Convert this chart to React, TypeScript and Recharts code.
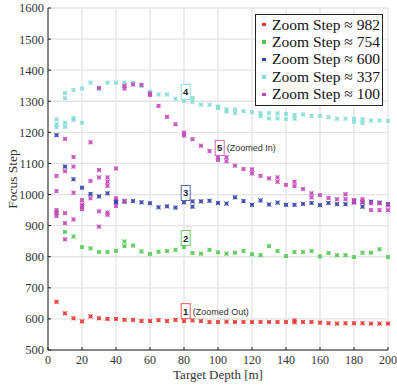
import React from 'react';
import {
  ScatterChart,
  Scatter,
  XAxis,
  YAxis,
  CartesianGrid,
  Legend,
  ReferenceDot
} from 'recharts';

// target depths [m], one column of samples per depth
const DEPTHS = [
  5, 10, 15, 20, 25, 30, 35, 40, 45, 50, 55, 60, 65, 70, 75, 80, 85, 90, 95, 100,
  105, 110, 115, 120, 125, 130, 135, 140, 145, 150, 155, 160, 165, 170, 175, 180, 185, 190, 195, 200
];

const ZOOM_982 = [
  [655], [618], [602], [592], [608], [602], [600], [600], [597], [597], [593], [593], [596], [593], [597], [593], [595], [593], [590], [590],
  [591], [590], [590], [590], [590], [590], [590], [590], [595, 589], [590], [590], [588], [586], [585], [586], [586], [586], [585], [585], [585]
];

const ZOOM_754 = [
  [944], [880], [865], [831], [827], [815], [815], [819], [849, 834], [836], [817], [809], [816], [818], [822], [831], [812], [810], [822], [814],
  [810], [813], [819], [808], [805], [834], [818], [802], [815], [815], [818], [801], [812], [805], [805], [799], [813], [813], [824], [799]
];

const ZOOM_600 = [
  [1191], [1090], [1049], [1022], [1002], [994], [1004], [980, 975], [977], [979], [975], [972], [959], [962], [958], [975], [978, 961], [978], [980], [973],
  [971], [991], [979], [967], [981], [968], [974], [967], [967], [970], [973], [966], [973], [969], [969], [976, 980], [961, 975], [977], [974], [969]
];

const ZOOM_337 = [
  [1242, 1226, 1217], [1326, 1310, 1231, 1218], [1336, 1246, 1240], [1341, 1231], [1360], [1339], [1360], [1360], [1360], [1360], [1349], [1331, 1324], [1322], [1322], [1308], [1301], [1311, 1298], [1289], [1289], [1283, 1278],
  [1274, 1267], [1274, 1262], [1268], [1265], [1262, 1252], [1262, 1245], [1261, 1245], [1259, 1243], [1256, 1244], [1258], [1253], [1253], [1249], [1244], [1244], [1244, 1234], [1242, 1230], [1238], [1238], [1237]
];

const ZOOM_100 = [
  [1060, 1011, 950, 940, 931], [1179, 1075, 940, 908, 856], [1121, 1090, 1006, 920], [982, 968, 961, 953], [1168, 1044, 988], [1343, 1079, 1055, 946, 897], [1055, 1041, 1028, 942, 935], [1084, 988, 963], [1350, 1341, 980], [1354], [1353], [1325, 1320], [1285], [1250], [1226], [1199, 1190], [1178], [1157], [1140], [1120, 1111],
  [1120, 1107], [1093], [1082], [1081, 1068], [1060], [1052], [1055, 1041], [1031], [1041, 1027], [1018], [1004, 991], [998], [989], [985], [1001, 985], [982, 974], [985, 977], [972, 950], [972, 950], [965, 950]
];

const X_TICKS = [0, 20, 40, 60, 80, 100, 120, 140, 160, 180, 200];
const Y_TICKS = [500, 600, 700, 800, 900, 1000, 1100, 1200, 1300, 1400, 1500, 1600];

const SERIES = [
  { name: 'Zoom Step \u2248 982', color: '#e8322c', values: ZOOM_982 },
  { name: 'Zoom Step \u2248 754', color: '#4fc94f', values: ZOOM_754 },
  { name: 'Zoom Step \u2248 600', color: '#2c3fa3', values: ZOOM_600 },
  { name: 'Zoom Step \u2248 337', color: '#82ddd5', values: ZOOM_337 },
  { name: 'Zoom Step \u2248 100', color: '#c445b8', values: ZOOM_100 }
];

// numbered boxes placed in data coordinates
const ANNOTATIONS = [
  { label: '1', x: 81, y: 625, note: '(Zoomed Out)', border: '#ec5a55' },
  { label: '2', x: 81, y: 860, note: '', border: '#62d062' },
  { label: '3', x: 81, y: 1005, note: '', border: '#5668b8' },
  { label: '4', x: 81, y: 1330, note: '', border: '#8fe2da' },
  { label: '5', x: 101, y: 1150, note: '(Zoomed In)', border: '#c964c0' }
];

const SERIF = '"Liberation Serif", "Times New Roman", Times, serif';
const SANS = '"Liberation Sans", Arial, sans-serif';

const toPoints = (values: number[][]) =>
  values.flatMap((col, i) => col.map(v => ({ x: DEPTHS[i], y: v })));

const Marker = (color: string) => (props: any) => {
  const { cx, cy } = props;
  if (cx == null || cy == null) return <g />;
  return (
    <g>
      <rect x={cx - 1.9} y={cy - 1.9} width={3.8} height={3.8} fill={color} fillOpacity={0.8} />
      <path
        d={`M${cx - 2.2},${cy - 2.2}L${cx + 2.2},${cy + 2.2}M${cx - 2.2},${cy + 2.2}L${cx + 2.2},${cy - 2.2}`}
        stroke={color}
        strokeWidth={0.7}
      />
    </g>
  );
};

const AnnotationBox = (a: typeof ANNOTATIONS[number]) => (props: any) => {
  const { cx, cy } = props;
  return (
    <g>
      <rect x={cx - 4.5} y={cy - 7.5} width={9} height={15} fill="#fff" stroke={a.border} strokeWidth={1} />
      <text x={cx} y={cy + 3.5} textAnchor="middle" fontFamily={SANS} fontWeight="bold" fontSize={9.5} fill="#222">
        {a.label}
      </text>
      {a.note && (
        <text x={cx + 7} y={cy + 3.5} fontFamily={SANS} fontSize={9} fill="#333">
          {a.note}
        </text>
      )}
    </g>
  );
};

const LegendBox = () => (
  <div
    style={{
      border: '1px solid #222',
      background: '#fff',
      width: 126,
      padding: '1px 0 2px 0',
      fontFamily: SERIF,
      fontSize: 15.5,
      color: '#111'
    }}
  >
    {SERIES.map(s => (
      <div key={s.name} style={{ display: 'flex', alignItems: 'center', height: 17.4, whiteSpace: 'nowrap' }}>
        <span style={{ display: 'inline-block', width: 3.5, height: 3.5, background: s.color, marginLeft: 6, marginRight: 6.5 }} />
        <span style={{ fontFamily: SERIF }}>{s.name}</span>
      </div>
    ))}
  </div>
);

export default function App() {
  return (
    <div style={{ width: 397, height: 385 }}>
      <style>{'body{margin:0}'}</style>
      <ScatterChart width={397} height={385} margin={{ top: 8, right: 9, bottom: 0, left: 0 }}>
        <CartesianGrid stroke="#e4e4e4" strokeWidth={1.3} />
        <XAxis
          type="number"
          dataKey="x"
          domain={[0, 200]}
          ticks={X_TICKS}
          height={35}
          tickSize={-3}
          tickMargin={8}
          stroke="#222"
          tick={{ fontFamily: SERIF, fontSize: 12, fill: '#333' }}
          label={{
            content: () => (
              <text x={218} y={379} textAnchor="middle" fontFamily={SERIF} fontSize={13} fill="#333">
                Target Depth [m]
              </text>
            )
          }}
        />
        <YAxis
          type="number"
          dataKey="y"
          domain={[500, 1600]}
          ticks={Y_TICKS}
          width={48}
          tickSize={-3}
          tickMargin={7}
          stroke="#222"
          tick={{ fontFamily: SERIF, fontSize: 12.5, fill: '#333' }}
          label={{
            content: () => (
              <text x={17} y={179} transform="rotate(-90 17 179)" textAnchor="middle" fontFamily={SERIF} fontSize={13.5} fill="#333">
                Focus Step
              </text>
            )
          }}
        />
        {SERIES.map(s => (
          <Scatter
            key={s.name}
            name={s.name}
            data={toPoints(s.values)}
            fill={s.color}
            shape={Marker(s.color)}
            isAnimationActive={false}
          />
        ))}
        {ANNOTATIONS.map(a => (
          <ReferenceDot key={a.label} x={a.x} y={a.y} r={0} ifOverflow="visible" shape={AnnotationBox(a)} />
        ))}
        <Legend
          layout="vertical"
          align="center"
          verticalAlign="middle"
          wrapperStyle={{ left: 255, top: 14, width: 128 }}
          content={() => <LegendBox />}
        />
      </ScatterChart>
    </div>
  );
}
